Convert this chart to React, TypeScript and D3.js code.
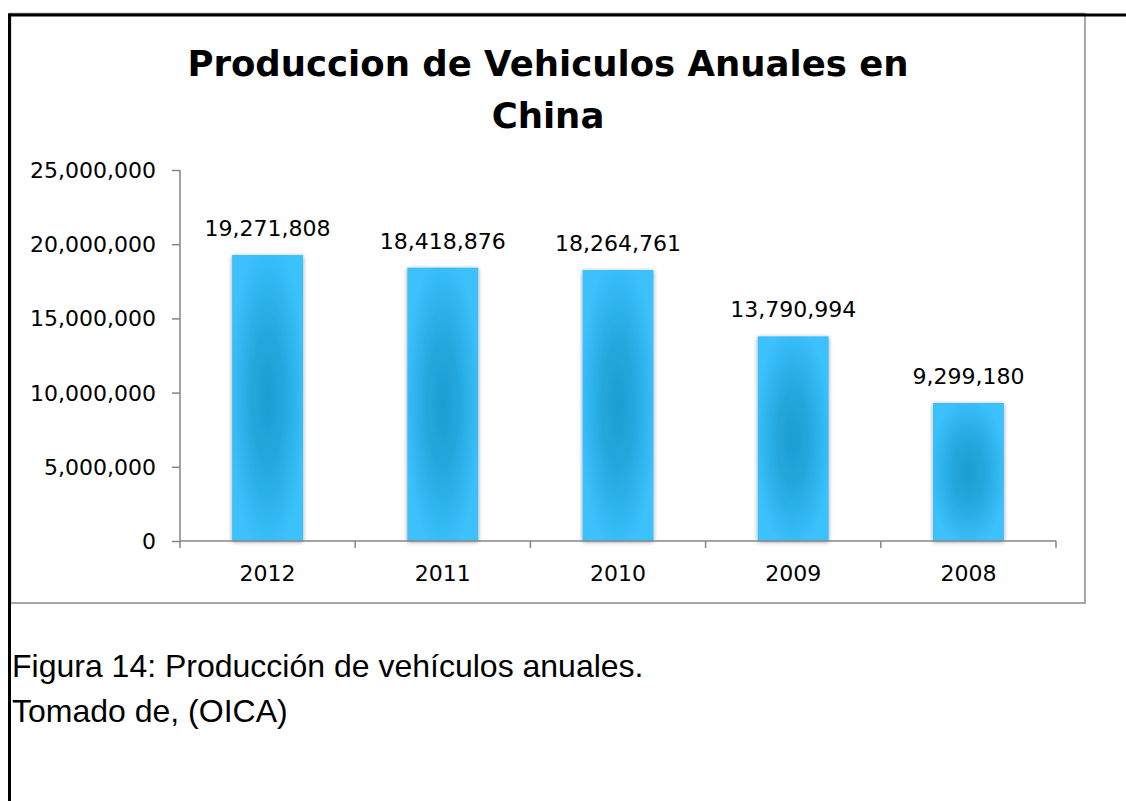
import React, { useRef, useEffect } from 'react';
import * as d3 from 'd3';

// data
const years = ['2012', '2011', '2010', '2009', '2008'];
const production = [19271808, 18418876, 18264761, 13790994, 9299180];
const yTicks = [0, 5000000, 10000000, 15000000, 20000000, 25000000];
const titleLines = ['Produccion de Vehiculos Anuales en', 'China'];
const captionLines = ['Figura 14: Producción de vehículos anuales.', 'Tomado de, (OICA)'];

const W = 1126;
const H = 801;

function App() {
  const svgRef = useRef(null);

  useEffect(() => {
    const svg = d3.select(svgRef.current);
    svg.selectAll('*').remove();

    const plot = { left: 180, right: 1056, top: 170, bottom: 541 };
    const axisColor = '#868686';
    const font = '"DejaVu Sans", sans-serif';

    const defs = svg.append('defs');
    const grad = defs.append('radialGradient')
      .attr('id', 'barFill')
      .attr('cx', '50%').attr('cy', '50%').attr('r', '55%');
    grad.append('stop').attr('offset', '0%').attr('stop-color', '#1c9ed2');
    grad.append('stop').attr('offset', '40%').attr('stop-color', '#22a7dc');
    grad.append('stop').attr('offset', '100%').attr('stop-color', '#3cc1fd');

    const shadow = defs.append('filter').attr('id', 'barShadow')
      .attr('x', '-20%').attr('y', '-10%').attr('width', '140%').attr('height', '120%');
    shadow.append('feDropShadow')
      .attr('dx', 0).attr('dy', 1).attr('stdDeviation', 2.2)
      .attr('flood-color', '#000').attr('flood-opacity', 0.4);

    // chart box (gray) and the page frame (black)
    svg.append('rect')
      .attr('x', 10.5).attr('y', 13.5)
      .attr('width', 1085 - 10.5).attr('height', 603 - 13.5)
      .attr('fill', '#fff').attr('stroke', '#8a8a8a').attr('stroke-width', 1.5);
    svg.append('line')
      .attr('x1', 8).attr('x2', W).attr('y1', 15).attr('y2', 15)
      .attr('stroke', '#000').attr('stroke-width', 3);
    svg.append('line')
      .attr('x1', 9.5).attr('x2', 9.5).attr('y1', 13.5).attr('y2', H)
      .attr('stroke', '#000').attr('stroke-width', 3);

    // title
    const title = svg.append('text')
      .attr('text-anchor', 'middle')
      .attr('font-family', font)
      .attr('font-weight', 'bold')
      .attr('font-size', 35.5)
      .attr('fill', '#000');
    titleLines.forEach((t, i) => {
      title.append('tspan').attr('x', 548).attr('y', 76 + i * 52).text(t);
    });

    const x = d3.scaleBand()
      .domain(years)
      .range([plot.left, plot.right])
      .paddingInner(0.595)
      .paddingOuter(0.2975);
    const y = d3.scaleLinear().domain([0, 25000000]).range([plot.bottom, plot.top]);

    // y axis
    const yAxis = svg.append('g')
      .attr('transform', `translate(${plot.left},0)`)
      .call(d3.axisLeft(y).tickValues(yTicks).tickSize(8).tickPadding(16)
        .tickFormat(d3.format(',')));
    yAxis.select('.domain').remove();
    yAxis.selectAll('line').attr('stroke', axisColor).attr('stroke-width', 1.5);
    yAxis.selectAll('text')
      .attr('font-family', font).attr('font-size', 22).attr('fill', '#000')
      .attr('dy', '0.34em');
    svg.append('line')
      .attr('x1', plot.left).attr('x2', plot.left)
      .attr('y1', plot.top).attr('y2', plot.bottom + 7)
      .attr('stroke', axisColor).attr('stroke-width', 1.5);

    // bars
    svg.append('g').selectAll('rect')
      .data(production)
      .enter().append('rect')
      .attr('x', (d, i) => x(years[i]))
      .attr('width', x.bandwidth())
      .attr('y', (d) => y(d))
      .attr('height', (d) => y(0) - y(d))
      .attr('fill', 'url(#barFill)')
      .attr('filter', 'url(#barShadow)');

    // value labels
    svg.append('g').selectAll('text')
      .data(production)
      .enter().append('text')
      .attr('x', (d, i) => x(years[i]) + x.bandwidth() / 2)
      .attr('y', (d) => y(d) - 19)
      .attr('text-anchor', 'middle')
      .attr('font-family', font).attr('font-size', 22).attr('fill', '#000')
      .text((d) => d3.format(',')(d));

    // x axis: line, ticks between categories, labels centred
    svg.append('line')
      .attr('x1', plot.left).attr('x2', plot.right)
      .attr('y1', plot.bottom).attr('y2', plot.bottom)
      .attr('stroke', axisColor).attr('stroke-width', 1.5);
    const step = x.step();
    const bounds = years.map((yr) => x(yr) + x.bandwidth() / 2 + step / 2);
    svg.append('g').selectAll('line')
      .data(bounds)
      .enter().append('line')
      .attr('x1', (d) => d).attr('x2', (d) => d)
      .attr('y1', plot.bottom).attr('y2', plot.bottom + 7)
      .attr('stroke', axisColor).attr('stroke-width', 1.5);
    svg.append('g').selectAll('text')
      .data(years)
      .enter().append('text')
      .attr('x', (d) => x(d) + x.bandwidth() / 2)
      .attr('y', 581)
      .attr('text-anchor', 'middle')
      .attr('font-family', font).attr('font-size', 22).attr('fill', '#000')
      .text((d) => d);

    // caption under the chart
    svg.append('g').selectAll('text')
      .data(captionLines)
      .enter().append('text')
      .attr('x', 12)
      .attr('y', (d, i) => 677 + i * 45)
      .attr('font-family', '"Liberation Sans", Arial, sans-serif')
      .attr('font-size', 32)
      .attr('fill', '#000')
      .text((d) => d);
  }, []);

  return (
    <svg
      ref={svgRef}
      width={W}
      height={H}
      style={{ position: 'fixed', left: 0, top: 0, display: 'block', background: '#fff' }}
    ></svg>
  );
}

export default App;
